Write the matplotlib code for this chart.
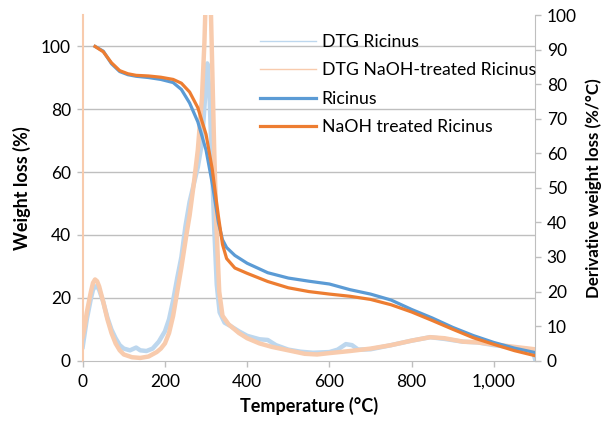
import matplotlib
matplotlib.use("Agg")
import matplotlib.pyplot as plt
from matplotlib.lines import Line2D

plt.rcParams['font.family'] = ['Lato', 'DejaVu Sans']

# ---- TG data (left axis, %) ----
tg_T = [30, 50, 70, 90, 110, 130, 160, 190, 220, 240, 260, 280, 300, 315, 330, 340, 350, 370,
        400, 450, 500, 550, 600, 650, 700, 750, 800, 850, 900, 950, 1000, 1050, 1100]
tg_ricinus = [100, 98.5, 94.5, 92, 91, 90.5, 90.1, 89.5, 88.5, 86.3, 82, 76, 67, 56.5, 44, 38.5, 36,
              33.5, 31, 28, 26.3, 25.3, 24.4, 22.6, 21.2, 19.3, 16.3, 13.6, 10.6, 8.0, 5.8, 4.0, 2.6]
tg_naoh = [100, 98.3, 94.8, 92.3, 91.3, 90.8, 90.6, 90.2, 89.5, 88.3, 85.5, 80.5, 72, 61, 46, 37, 32.5,
           29.5, 27.8, 25.2, 23.2, 22.0, 21.2, 20.5, 19.5, 17.8, 15.5, 12.8, 10.0, 7.3, 5.2, 3.2, 1.6]

# ---- DTG data (right axis, %/°C) ----
dtg_r_T = [0, 5, 10, 15, 20, 25, 30, 35, 40, 50, 60, 70, 80, 90, 100, 115, 130, 140, 155, 170, 185,
           200, 210, 220, 230, 240, 250, 260, 270, 280, 290, 297, 303, 308, 314, 320, 326, 333, 345,
           360, 380, 400, 430, 450, 470, 500, 530, 560, 600, 620, 640, 655, 670, 700, 750, 800, 845,
           880, 925, 960, 1000, 1050, 1085, 1095, 1100]
dtg_r = [4, 8, 12, 15, 18, 20.5, 21.5, 21.5, 20.5, 17, 12.5, 9, 6.5, 4.5, 3.5, 3, 3.8, 3, 2.8, 3.5,
         5.5, 8.5, 12, 17.5, 24, 30, 39, 46, 51, 56, 63, 75, 86, 78, 58, 38, 22, 14, 11, 10, 8.5,
         7.2, 6.2, 6, 4.5, 3.2, 2.6, 2.3, 2.5, 3.2, 4.8, 4.5, 3.2, 3.3, 4.5, 5.8, 6.8, 6.3, 5.5,
         5.3, 4.5, 3.8, 3.3, 2.5, 0.5]

dtg_n_T = [0, 5, 10, 15, 20, 25, 30, 35, 40, 50, 60, 70, 80, 90, 100, 120, 140, 160, 180, 190, 200,
           210, 220, 230, 240, 253, 260, 270, 280, 290, 296, 300, 307, 312, 316, 320, 325, 332, 340,
           355, 380, 400, 430, 460, 500, 540, 570, 600, 650, 700, 750, 800, 845, 880, 925, 960,
           1000, 1050, 1100]
dtg_n = [7, 10, 14, 17, 20, 22.5, 23.5, 23, 21.5, 17, 12, 8, 5, 3, 1.8, 1, 0.8, 1.2, 2.5, 3.5, 5,
         8, 13, 20, 27, 37, 42, 51, 61, 76, 92, 108, 112, 100, 80, 60, 40, 20, 13, 10.5, 8, 6.5,
         5, 4, 3, 2, 1.8, 2.2, 2.8, 3.5, 4.5, 5.8, 6.8, 6.5, 5.5, 5.3, 4.7, 4, 3.3]

left_ticks = [0, 20, 40, 60, 80, 100]
right_ticks = [0, 10, 20, 30, 40, 50, 60, 70, 80, 90, 100]
x_ticks = [0, 200, 400, 600, 800, 1000]
x_labels = ['0', '200', '400', '600', '800', '1,000']

BLUE = '#5b9bd5'
ORANGE = '#ed7d31'
LBLUE = '#bdd7ee'
LORANGE = '#f8cbad'
GRAY = '#bfbfbf'

fig = plt.figure(figsize=(6.05, 4.22), dpi=100)
ax = fig.add_axes([82.7/605, 1-360.7/422, (535-82.7)/605, (360.7-15)/422])
ax2 = ax.twinx()

ax.set_zorder(2)
ax.patch.set_visible(False)
ax2.set_zorder(1)

LMAX = 110
ax.set_xlim(0, 1100)
ax.set_ylim(0, LMAX)
ax2.set_ylim(0, 100)

# gridlines (left major ticks) drawn behind DTG on ax2
for t in left_ticks[1:]:
    ax2.axhline(t * 100 / LMAX, color=GRAY, lw=1.0, zorder=0)

ax2.plot(dtg_r_T, dtg_r, color=LBLUE, lw=3.2, zorder=2, solid_joinstyle='round')
ax2.plot(dtg_n_T, dtg_n, color=LORANGE, lw=3.2, zorder=3, solid_joinstyle='round')

ax.plot(tg_T, tg_ricinus, color=BLUE, lw=2.3, zorder=3)
ax.plot(tg_T, tg_naoh, color=ORANGE, lw=2.3, zorder=4)

ax.set_xticks(x_ticks)
ax.set_xticklabels(x_labels)
ax.set_yticks(left_ticks)
ax2.set_yticks(right_ticks)

for a in (ax, ax2):
    for s in a.spines.values():
        s.set_visible(False)
ax.spines['bottom'].set_visible(True)
ax.spines['bottom'].set_color(GRAY)
ax.spines['left'].set_visible(True)
ax.spines['left'].set_color(LORANGE)
ax.spines['left'].set_linewidth(1.5)
ax2.spines['right'].set_visible(True)
ax2.spines['right'].set_color(GRAY)

ax.tick_params(axis='y', direction='out', length=4.5, width=1, color=GRAY,
               labelsize=12.5, labelcolor='black', pad=4)
ax.tick_params(axis='x', direction='out', length=4.5, width=1, color=GRAY,
               labelsize=12.5, labelcolor='black', pad=5)
ax2.tick_params(axis='y', direction='out', length=4.5, width=1, color=GRAY,
                labelsize=12.5, labelcolor='black', pad=4)

ax.set_xlabel('Temperature (°C)', fontsize=13, fontweight='bold', labelpad=5)
ax.set_ylabel('Weight loss (%)', fontsize=13, fontweight='bold', labelpad=7)
ax2.set_ylabel('Derivative weight loss (%/°C)', fontsize=12.2, fontweight='bold', labelpad=6)

handles = [Line2D([], [], color=LBLUE, lw=1.0),
           Line2D([], [], color=LORANGE, lw=1.0),
           Line2D([], [], color=BLUE, lw=2.3),
           Line2D([], [], color=ORANGE, lw=2.3)]
labels = ['DTG Ricinus', 'DTG NaOH-treated Ricinus', 'Ricinus', 'NaOH treated Ricinus']
leg = ax.legend(handles, labels, loc='upper left', bbox_to_anchor=(260/605, 1-34/422),
                bbox_transform=fig.transFigure, frameon=False, fontsize=12.7,
                handlelength=3.15, handletextpad=0.35, labelspacing=0.7, borderpad=0,
                borderaxespad=0)

fig.savefig('out.png', dpi=100)
